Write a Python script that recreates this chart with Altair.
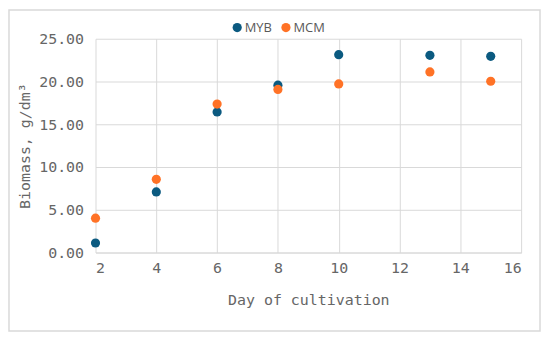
import altair as alt
import pandas as pd

days = [2, 4, 6, 8, 10, 13, 15]
myb = [1.12, 7.09, 16.43, 19.57, 23.14, 23.06, 22.94]
mcm = [4.02, 8.56, 17.36, 19.07, 19.72, 21.12, 20.03]
series = ["MYB", "MCM"]
colors = ["#0b5a80", "#ff7226"]

df = pd.DataFrame(
    [{"day": d, "value": v, "series": "MYB"} for d, v in zip(days, myb)]
    + [{"day": d, "value": v, "series": "MCM"} for d, v in zip(days, mcm)]
)

mono = "DejaVu Sans Mono"
W, H = 428, 215

frame = alt.Chart(pd.DataFrame({"a": [0]})).mark_rect(
    fill=None, stroke="#d9d9d9", strokeWidth=1.5
).encode(
    x=alt.value(-87), x2=alt.value(W + 19),
    y=alt.value(-29), y2=alt.value(H + 79),
)

points = alt.Chart(df).mark_circle(size=85, opacity=1).encode(
    x=alt.X("day:Q", scale=alt.Scale(domain=[2, 16], nice=False),
            axis=alt.Axis(values=[2, 4, 6, 8, 10, 12, 14, 16], title="Day of cultivation",
                          titlePadding=17)),
    y=alt.Y("value:Q", scale=alt.Scale(domain=[0, 25], nice=False),
            axis=alt.Axis(values=[0, 5, 10, 15, 20, 25], format=".2f",
                          title="Biomass, g/dm³", titlePadding=6)),
    color=alt.Color("series:N", scale=alt.Scale(domain=series, range=colors),
                    sort=series,
                    legend=alt.Legend(title=None, orient="none", direction="horizontal",
                                      legendX=136, legendY=-18, symbolType="circle",
                                      symbolSize=85, labelFont="Open Sans",
                                      labelFontSize=13, labelColor="#595959",
                                      symbolOffset=0, labelOffset=1, columnPadding=7)),
)

chart = alt.layer(frame, points).properties(
    width=W, height=H,
    autosize=alt.AutoSizeParams(type="none"),
    padding={"left": 88, "top": 30, "right": 21, "bottom": 82},
).configure_view(stroke=None).configure_axis(
    labelFont=mono, titleFont=mono, labelFontSize=15, titleFontSize=15,
    labelColor="#666666", titleColor="#666666", titleFontWeight="normal",
    gridColor="#d9d9d9", domainColor="#d9d9d9", ticks=False, labelPadding=8,
).configure_axisY(domain=False, labelPadding=12).configure_axisX(domain=True)

chart.save("out.html", embed_options={"renderer": "svg", "actions": False})
